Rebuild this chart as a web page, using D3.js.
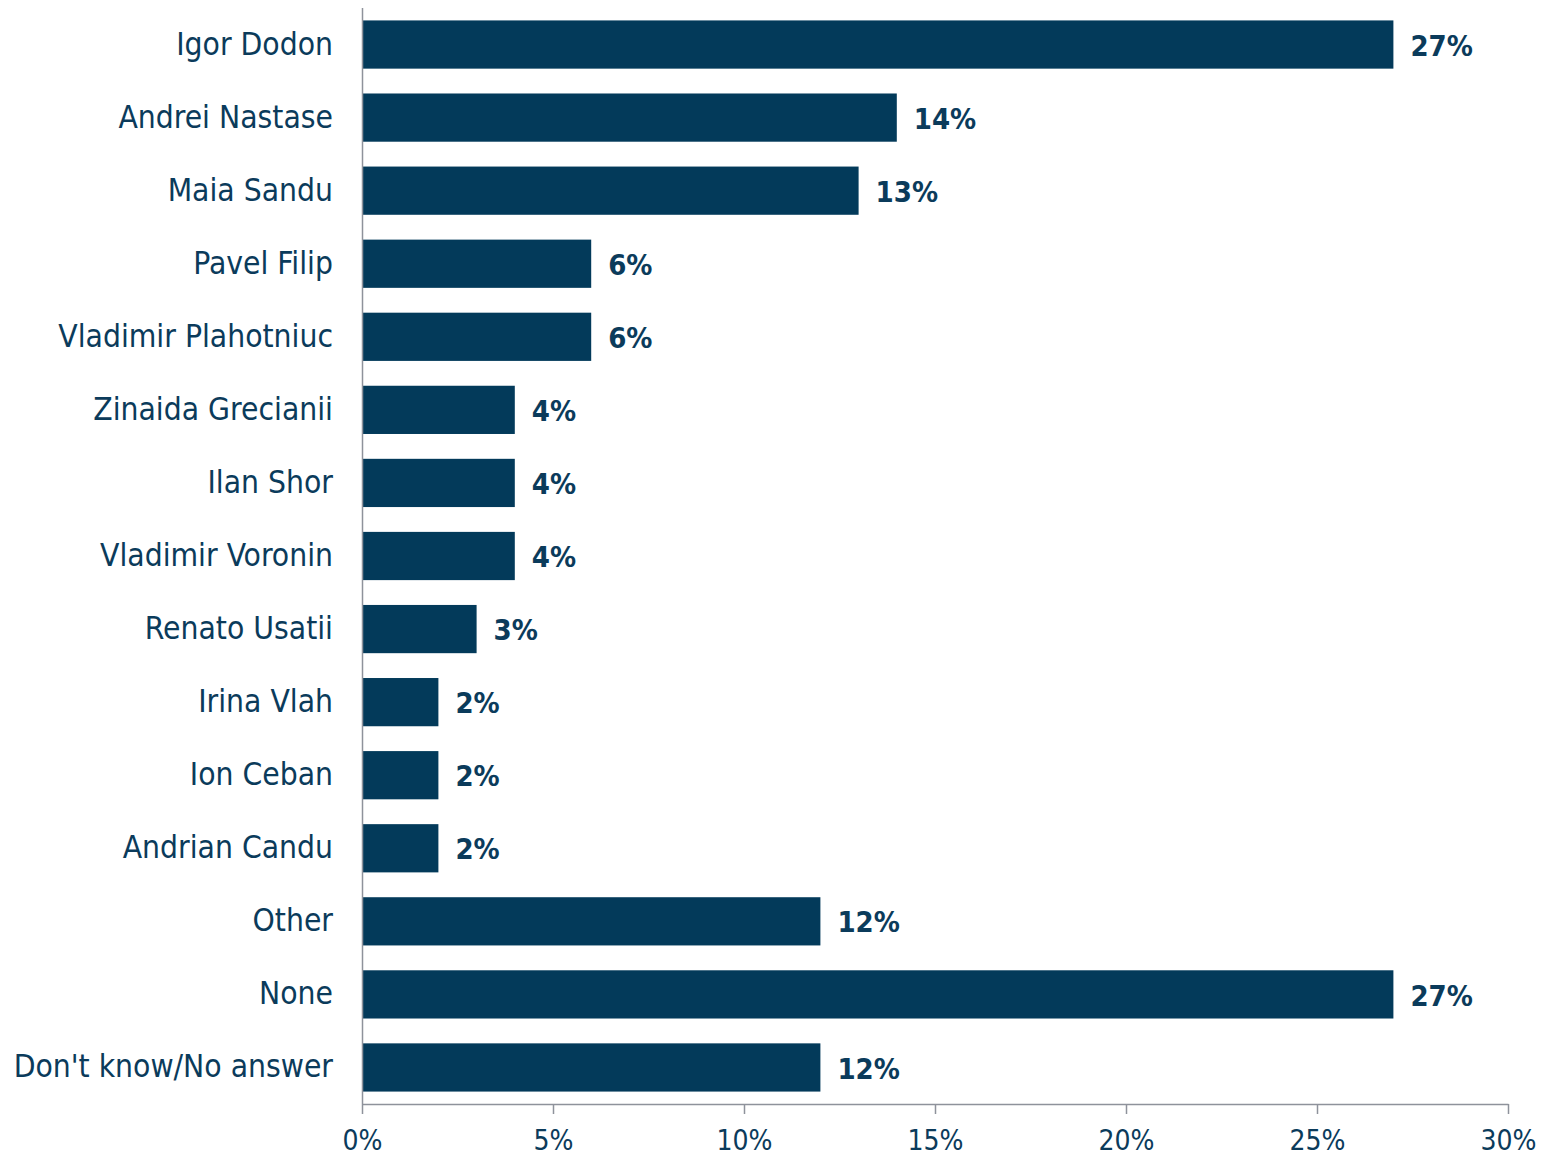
<!DOCTYPE html>
<html>
<head>
<meta charset="utf-8">
<script src="https://cdn.jsdelivr.net/npm/d3@7"></script>
<style>
  body { margin: 0; background: #fff; }
  text { font-family: "DejaVu Sans Condensed", "DejaVu Sans", sans-serif; }
</style>
</head>
<body>
<div id="chart"></div>
<script>
// data
var names = ["Igor Dodon", "Andrei Nastase", "Maia Sandu", "Pavel Filip", "Vladimir Plahotniuc",
  "Zinaida Grecianii", "Ilan Shor", "Vladimir Voronin", "Renato Usatii", "Irina Vlah",
  "Ion Ceban", "Andrian Candu", "Other", "None", "Don't know/No answer"];
var shares = [27, 14, 13, 6, 6, 4, 4, 4, 3, 2, 2, 2, 12, 27, 12];
var tickValues = [0, 5, 10, 15, 20, 25, 30];

var chartW = 1552, chartH = 1157;
var plotLeft = 362, plotRight = 1508, plotTop = 8, plotBottom = 1104;
var barColor = "#033a5a", textColor = "#0b3b5b", axisColor = "#8e929b";

var svg = d3.select("#chart").append("svg")
  .attr("width", chartW)
  .attr("height", chartH);

var x = d3.scaleLinear().domain([0, 30]).range([plotLeft, plotRight]);
var y = d3.scaleBand().domain(names).range([plotTop, plotBottom])
  .paddingInner(0.34).paddingOuter(0.17);

// bars
svg.selectAll(".bar")
  .data(names)
  .enter().append("rect")
    .attr("class", "bar")
    .attr("x", x(0))
    .attr("y", function(d){ return y(d); })
    .attr("width", function(d, i){ return x(shares[i]) - x(0); })
    .attr("height", y.bandwidth())
    .attr("fill", barColor);

// value labels
svg.selectAll(".val")
  .data(names)
  .enter().append("text")
    .attr("class", "val")
    .attr("x", function(d, i){ return x(shares[i]) + 17; })
    .attr("y", function(d){ return y(d) + y.bandwidth() / 2 + 1; })
    .attr("dy", "0.35em")
    .attr("font-size", 29)
    .attr("font-weight", "bold")
    .attr("fill", textColor)
    .text(function(d, i){ return shares[i] + "%"; });

// category labels
svg.selectAll(".cat")
  .data(names)
  .enter().append("text")
    .attr("class", "cat")
    .attr("x", plotLeft - 29)
    .attr("y", function(d){ return y(d) + y.bandwidth() / 2 - 1; })
    .attr("dy", "0.35em")
    .attr("text-anchor", "end")
    .attr("font-size", 31.5)
    .attr("fill", textColor)
    .text(function(d){ return d; });

// y axis line
svg.append("line")
  .attr("x1", plotLeft + 0.5).attr("x2", plotLeft + 0.5)
  .attr("y1", plotTop).attr("y2", plotBottom)
  .attr("stroke", axisColor).attr("stroke-width", 1.5);

// x axis
var xAxis = svg.append("g")
  .attr("transform", "translate(0," + plotBottom + ")")
  .call(d3.axisBottom(x).tickValues(tickValues).tickSize(10).tickSizeOuter(0)
    .tickFormat(function(d){ return d + "%"; }));

xAxis.select(".domain").attr("stroke", axisColor).attr("stroke-width", 1.5);
xAxis.selectAll(".tick line").attr("stroke", axisColor).attr("stroke-width", 1.5);
xAxis.selectAll(".tick text")
  .attr("y", 26)
  .attr("dy", "0.71em")
  .attr("font-size", 28)
  .attr("font-family", "\"DejaVu Sans Condensed\", \"DejaVu Sans\", sans-serif")
  .attr("fill", textColor);
</script>
</body>
</html>
